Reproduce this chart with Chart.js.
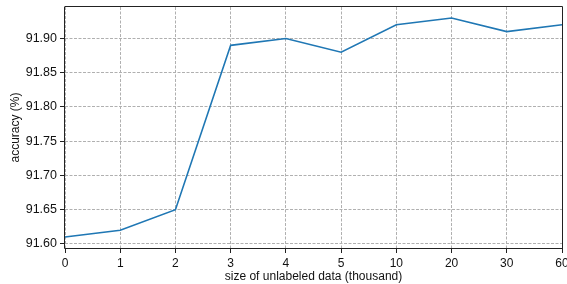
<!DOCTYPE html>
<html>
<head>
<meta charset="utf-8">
<script src="https://cdn.jsdelivr.net/npm/chart.js@4.4.1/dist/chart.umd.min.js"></script>
<style>
html,body{margin:0;padding:0;background:#fff;}
#wrap{width:567px;height:284px;}
</style>
</head>
<body>
<div id="wrap"><canvas id="c" width="567" height="284"></canvas></div>
<script>
const categories = ['0','1','2','3','4','5','10','20','30','60'];
const accuracy = [91.61, 91.62, 91.65, 91.89, 91.90, 91.88, 91.92, 91.93, 91.91, 91.92];
const yTicks = [91.60, 91.65, 91.70, 91.75, 91.80, 91.85, 91.90];
const yMin = 91.594, yMax = 91.946;

const FONT = "'Liberation Sans', Arial, Helvetica, sans-serif";

const spines = {
  id: 'spines',
  afterDatasetsDraw(chart) {
    const {ctx, chartArea: a} = chart;
    ctx.save();
    ctx.lineWidth = 1;
    ctx.strokeStyle = '#222';
    ctx.beginPath();
    ctx.moveTo(a.left - 0.5, a.top); ctx.lineTo(a.left - 0.5, a.bottom + 0.5);
    ctx.lineTo(a.right + 0.5, a.bottom + 0.5);
    ctx.lineTo(a.right + 0.5, a.top - 0.5);
    ctx.lineTo(a.left - 0.5, a.top - 0.5);
    ctx.stroke();
    ctx.restore();
  }
};

function zeroPad(s) { s.paddingTop = 0; s.paddingBottom = 0; s.paddingLeft = 0; s.paddingRight = 0; }

new Chart(document.getElementById('c'), {
  type: 'line',
  data: {
    labels: categories,
    datasets: [{
      data: accuracy,
      borderColor: '#1f77b4',
      borderWidth: 1.6,
      pointRadius: 0,
      tension: 0,
      fill: false
    }]
  },
  options: {
    responsive: false,
    animation: false,
    layout: { padding: { top: 7, right: 5, left: 0, bottom: 0 } },
    plugins: { legend: { display: false }, tooltip: { enabled: false } },
    scales: {
      x: {
        type: 'category',
        offset: false,
        border: { display: false, dash: [3, 1.5] },
        grid: {
          color: '#b0b0b0', lineWidth: 1,
          drawTicks: true, tickLength: 5, tickColor: '#222', tickBorderDash: [], tickWidth: 1
        },
        ticks: { color: '#111', font: { family: FONT, size: 12 }, padding: 3, maxRotation: 0, autoSkip: false },
        title: { display: true, text: 'size of unlabeled data (thousand)', color: '#111',
                 font: { family: FONT, size: 12 }, padding: { top: 0, bottom: 0 } },
        afterFit(s) { s.height = 36; zeroPad(s); }
      },
      y: {
        type: 'linear',
        min: yMin, max: yMax,
        border: { display: false, dash: [3, 1.5] },
        grid: {
          color: '#b0b0b0', lineWidth: 1,
          drawTicks: true, tickLength: 5, tickColor: '#222', tickBorderDash: [], tickWidth: 1
        },
        afterBuildTicks(s) { s.ticks = yTicks.map(v => ({ value: v })); },
        ticks: { color: '#111', font: { family: FONT, size: 12.5 }, padding: 3,
                 callback: (v) => Number(v).toFixed(2) },
        title: { display: true, text: 'accuracy (%)', color: '#111',
                 font: { family: FONT, size: 12 }, padding: { top: 8, bottom: 0 } },
        afterFit(s) { s.width = 65; zeroPad(s); }
      }
    }
  },
  plugins: [spines]
});
</script>
</body>
</html>
